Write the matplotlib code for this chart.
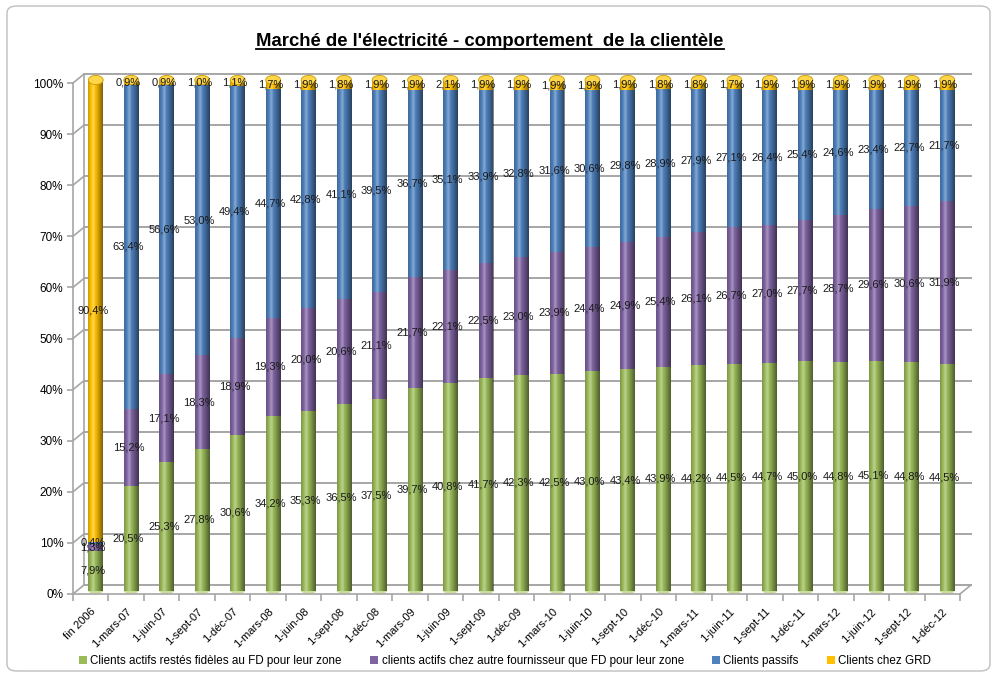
import numpy as np
import matplotlib.pyplot as plt
from matplotlib import transforms
from matplotlib.patches import Ellipse, FancyBboxPatch, Patch
from matplotlib.lines import Line2D

plt.rcParams['font.family'] = ['Liberation Sans Narrow', 'Liberation Sans', 'DejaVu Sans']

dates = ['fin 2006', '1-mars-07', '1-juin-07', '1-sept-07', '1-déc-07',
         '1-mars-08', '1-juin-08', '1-sept-08', '1-déc-08',
         '1-mars-09', '1-juin-09', '1-sept-09', '1-déc-09',
         '1-mars-10', '1-juin-10', '1-sept-10', '1-déc-10',
         '1-mars-11', '1-juin-11', '1-sept-11', '1-déc-11',
         '1-mars-12', '1-juin-12', '1-sept-12', '1-déc-12']

fideles = [7.9, 20.5, 25.3, 27.8, 30.6, 34.2, 35.3, 36.5, 37.5, 39.7, 40.8, 41.7, 42.3,
           42.5, 43.0, 43.4, 43.9, 44.2, 44.5, 44.7, 45.0, 44.8, 45.1, 44.8, 44.5]
autre = [1.3, 15.2, 17.1, 18.3, 18.9, 19.3, 20.0, 20.6, 21.1, 21.7, 22.1, 22.5, 23.0,
         23.9, 24.4, 24.9, 25.4, 26.1, 26.7, 27.0, 27.7, 28.7, 29.6, 30.6, 31.9]
passifs = [0.4, 63.4, 56.6, 53.0, 49.4, 44.7, 42.8, 41.1, 39.5, 36.7, 35.1, 33.9, 32.8,
           31.6, 30.6, 29.8, 28.9, 27.9, 27.1, 26.4, 25.4, 24.6, 23.4, 22.7, 21.7]
grd = [90.4, 0.9, 0.9, 1.0, 1.1, 1.7, 1.9, 1.8, 1.9, 1.9, 2.1, 1.9, 1.9,
       1.9, 1.9, 1.9, 1.8, 1.8, 1.7, 1.9, 1.9, 1.9, 1.9, 1.9, 1.9]

labels = ['Clients actifs restés fidèles au FD pour leur zone',
          'clients actifs chez autre fournisseur que FD pour leur zone',
          'Clients passifs',
          'Clients chez GRD']
colors = ['#9BBB59', '#8064A2', '#4F81BD', '#FFC000']

fig = plt.figure(figsize=(9.96, 6.77), dpi=100)
ax = fig.add_axes([73/996, 83/677, 887/996, 511/677])
n = len(dates)
x = np.arange(n)
w = 0.42
ax.set_xlim(-0.5, n - 0.5)
ax.set_ylim(0, 100)

back = transforms.offset_copy(ax.transData, fig=fig, x=11, y=9, units='dots')
mid = transforms.offset_copy(ax.transData, fig=fig, x=5, y=3, units='dots')
grid_c = '#A6A6A6'

# back wall grid + 3d frame
for v in range(0, 101, 10):
    ax.plot([-0.5, n - 0.5], [v, v], color=grid_c, lw=1.4, transform=back,
            clip_on=False, zorder=0)
ax.plot([-0.5, -0.5], [0, 100], color=grid_c, lw=1.2, transform=back, clip_on=False, zorder=0)
inv = fig.transFigure.inverted()
conn = [(-0.5, v) for v in range(0, 101, 10)] + [(n - 0.5, 0)]
for cx, cy in conn:
    p0 = inv.transform(ax.transData.transform((cx, cy)))
    p1 = inv.transform(back.transform((cx, cy)))
    fig.add_artist(Line2D([p0[0], p1[0]], [p0[1], p1[1]], color=grid_c, lw=1.2, zorder=0))

# shading profile for the cylinders
t = np.linspace(-1, 1, 60) + 0.3
img = np.zeros((1, 60, 4))
dark = np.clip(np.abs(t) - 0.3, 0, 1) * 0.5
light = np.clip(0.35 - np.abs(t), 0, 1) * 0.9
img[0, :, :3] = np.where(dark > 0, 0.0, 1.0)[:, None]
img[0, :, 3] = np.where(dark > 0, dark, light)

bottom = np.zeros(n)
for vals, col in zip([fideles, autre, passifs, grd], colors):
    vals = np.array(vals)
    ax.bar(x, vals, width=w, bottom=bottom, color=col, linewidth=0,
           transform=mid, clip_on=False, zorder=2)
    for xi, b, v in zip(x, bottom, vals):
        ax.text(xi - 0.08, b + v / 2, f'{v:.1f}'.replace('.', ',') + '%',
                ha='center', va='center', fontsize=8, color='#1a1a1a',
                transform=mid, zorder=6)
    bottom = bottom + vals

for xi in x:
    ax.imshow(img, extent=[xi - w / 2, xi + w / 2, 0, 100], aspect='auto',
              interpolation='bilinear', transform=mid, clip_on=False, zorder=3)
    ax.add_patch(Ellipse((xi, 100), w, 1.8, facecolor='#FFD54A', edgecolor='#C89B00',
                         lw=0.6, transform=mid, clip_on=False, zorder=4))
    ax.add_patch(Ellipse((xi, 0), w, 1.0, facecolor='#C9DC9A', edgecolor='none',
                         transform=mid, clip_on=False, zorder=1))

ax.set_xlim(-0.5, n - 0.5)
ax.set_ylim(0, 100)

ax.set_xticks(x)
ax.set_xticklabels(dates, rotation=45, ha='right', rotation_mode='anchor', fontsize=8)
ax.set_xticks(np.arange(-0.5, n, 1), minor=True)
ax.tick_params(axis='x', which='major', length=0, pad=9)
ax.tick_params(axis='x', which='minor', length=5, color=grid_c, width=1.2)
ax.set_yticks(range(0, 101, 10))
ax.set_yticklabels([f'{v}%' for v in range(0, 101, 10)], fontsize=8.5)
ax.tick_params(axis='y', length=4, color=grid_c, width=1.2, pad=3)
for s in ['top', 'right']:
    ax.spines[s].set_visible(False)
for s in ['left', 'bottom']:
    ax.spines[s].set_color(grid_c)
    ax.spines[s].set_linewidth(1.2)
ax.patch.set_visible(False)

title = fig.text(490/996, 1 - 42/677, "Marché de l'électricité - comportement  de la clientèle",
                 ha='center', va='center', fontsize=13.3, fontweight='bold')
fig.canvas.draw()
bb = title.get_window_extent()
u0 = inv.transform((bb.x0, bb.y0 + 1))
u1 = inv.transform((bb.x1, bb.y0 + 1))
fig.add_artist(Line2D([u0[0], u1[0]], [u0[1], u1[1]], color='black', lw=1.3))

handles = [Patch(facecolor=c) for c in colors]
fig.legend(handles, labels, loc='center', bbox_to_anchor=(505/996, 1 - 661/677), ncol=4,
           frameon=False, fontsize=8.4, handlelength=0.7, handleheight=0.7,
           handletextpad=0.3, columnspacing=2.4)

fig.patches.append(FancyBboxPatch((7/996, 6/677), 983/996, 665/677,
                                  boxstyle='round,pad=0,rounding_size=0.01',
                                  transform=fig.transFigure, fill=False,
                                  ec='#BFBFBF', lw=1))

fig.savefig('out.png', dpi=100)
